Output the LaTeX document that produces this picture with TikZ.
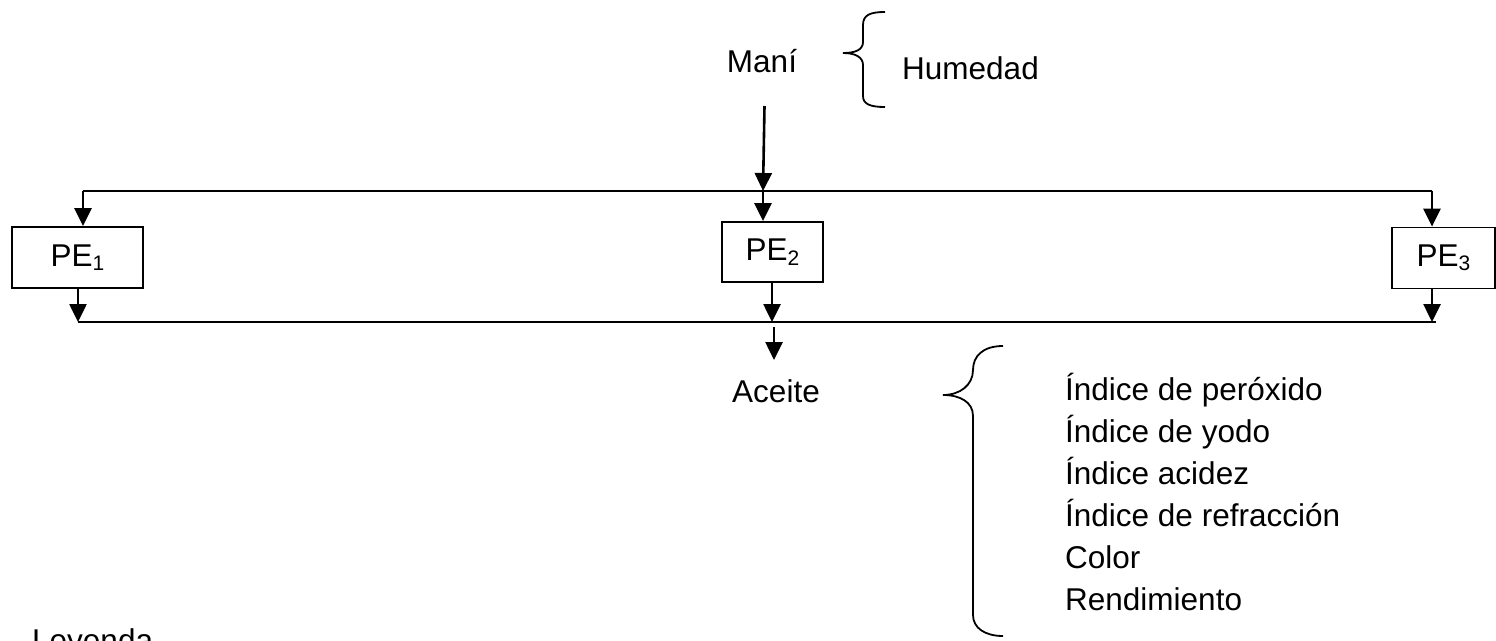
\documentclass[tikz,border=0pt]{standalone}
\usepackage{fontspec}
\setmainfont{Liberation Sans}
\usetikzlibrary{arrows.meta}
\newcommand{\pesub}[1]{PE\raisebox{-0.14em}{\fontsize{21}{21}\selectfont #1}}
\begin{document}
\begin{tikzpicture}[x=1pt,y=-1pt,
  every node/.style={font=\fontsize{31.5}{42}\selectfont, inner sep=0pt},
  conn/.style={line width=1.8pt},
  arr/.style={line width=2.6pt, -{Triangle[length=18pt,width=17pt]}},
  pebox/.style={draw, line width=1.8pt, minimum height=61pt},
  brace/.style={line width=1.8pt}]
\useasboundingbox (0,0) rectangle (1496,640);
% texts
\node[anchor=base] (mani) at (762,72) {Maní};
\node[anchor=base west] (hum) at (902,79) {Humedad};
\node[anchor=base] (aceite) at (776,402) {Aceite};
\node[anchor=base west, align=left] (list) at (1065,610) {Índice de peróxido\\Índice de yodo\\Índice acidez\\Índice de refracción\\Color\\Rendimiento};
\node[anchor=base west] (ley) at (32,651) {Leyenda};
% boxes
\node[pebox, minimum width=131pt] (pe1) at (77.5,257.5) {\pesub{1}};
\node[pebox, minimum width=101pt, minimum height=60pt] (pe2) at (772.5,252) {\pesub{2}};
\node[pebox, minimum width=103pt] (pe3) at (1443.5,258) {\pesub{3}};
% junction coordinates
\coordinate (ms) at (764.5,106);
\coordinate (t1) at (83,191);
\coordinate (t2) at (763,191);
\coordinate (t3) at (1432,191);
\coordinate (b1) at (78,322);
\coordinate (b2) at (772,322);
\coordinate (b3) at (1432,322);
\coordinate (bend) at (1436,322);
\coordinate (as) at (774,327);
\coordinate (ae) at (774,360);
% connectors
\draw[arr] (ms) -- (t2);
\draw[conn] (t1) -- (t3);
\draw[arr] (t1) -- (t1 |- pe1.north);
\draw[arr] (t2) -- (t2 |- pe2.north);
\draw[arr] (t3) -- (t3 |- pe3.north);
\draw[arr] (b1 |- pe1.south) -- (b1);
\draw[arr] (b2 |- pe2.south) -- (b2);
\draw[arr] (b3 |- pe3.south) -- (b3);
\draw[conn] (b1) -- (bend);
\draw[arr] (as) -- (ae);
% braces
\draw[brace] (885,12) .. controls (870,12) and (863,15) .. (863,25) -- (863,42) .. controls (863,50) and (855,53) .. (843,53) .. controls (855,53) and (863,57) .. (863,65) -- (863,96) .. controls (863,104) and (870,107) .. (885,107);
\draw[brace] (1003,346) .. controls (983,346) and (973,356) .. (973,370) .. controls (973,385) and (960,395) .. (943,395) .. controls (960,395) and (973,402) .. (973,416) -- (973,615) .. controls (973,628) and (985,636) .. (1003,636);
\end{tikzpicture}
\end{document}
